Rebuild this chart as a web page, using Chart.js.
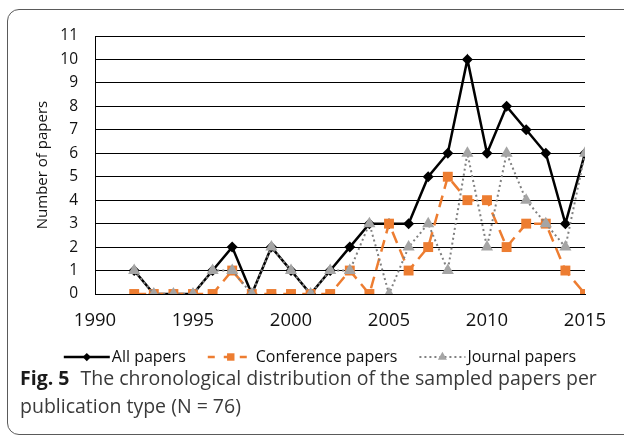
<!DOCTYPE html>
<html>
<head>
<meta charset="utf-8">
<script src="https://cdn.jsdelivr.net/npm/chart.js@4/dist/chart.umd.min.js"></script>
<style>
  html, body { margin: 0; padding: 0; background: #fff; overflow: hidden; }
  #wrap { position: relative; width: 624px; height: 436px; overflow: hidden; }
  #frame {
    position: absolute; left: 7px; top: 9px; width: 700px; height: 426px;
    border: 1.5px solid #5a5a5a; border-radius: 12px; box-sizing: border-box;
  }
  #myChart { position: absolute; left: 0; top: 0; }
  #caption {
    position: absolute; left: 20px; top: 364px; width: 600px;
    font-family: "Open Sans", sans-serif; font-size: 19.5px; line-height: 28px;
    color: #3a3a3a;
  }
  #caption b { color: #1a1a1a; font-weight: 700; margin-right: 6px; }
</style>
</head>
<body>
<div id="wrap">
  <div id="frame"></div>
  <canvas id="myChart" width="624" height="436"></canvas>
  <div id="caption"><b>Fig. 5</b> The chronological distribution of the sampled papers per publication type (N = 76)</div>
</div>
<script>
var years = [1992, 1993, 1994, 1995, 1996, 1997, 1998, 1999, 2000, 2001, 2002, 2003,
             2004, 2005, 2006, 2007, 2008, 2009, 2010, 2011, 2012, 2013, 2014, 2015];
var allPapers        = [1, 0, 0, 0, 1, 2, 0, 2, 1, 0, 1, 2, 3, 3, 3, 5, 6, 10, 6, 8, 7, 6, 3, 6];
var conferencePapers = [0, 0, 0, 0, 0, 1, 0, 0, 0, 0, 0, 1, 0, 3, 1, 2, 5, 4, 4, 2, 3, 3, 1, 0];
var journalPapers    = [1, 0, 0, 0, 1, 1, 0, 2, 1, 0, 1, 1, 3, 0, 2, 3, 1, 6, 2, 6, 4, 3, 2, 6];
var seriesNames = ['All papers', 'Conference papers', 'Journal papers'];

function toPoints(values) {
    return values.map(function (v, i) { return { x: years[i], y: v }; });
}

// legend with a line sample and a marker in its middle
const lineLegend = {
    id: 'lineLegend',
    afterDraw(chart, args, opts) {
        const ctx = chart.ctx;
        const sets = chart.data.datasets;
        ctx.save();
        ctx.font = opts.font;
        ctx.textBaseline = 'middle';
        const widths = sets.map(d => opts.sample + opts.gap + ctx.measureText(d.label).width);
        const total = widths.reduce((a, b) => a + b, 0) + opts.spacing * (sets.length - 1);
        let x = opts.center - total / 2;
        const y = opts.y;
        sets.forEach((d, i) => {
            ctx.strokeStyle = d.borderColor;
            ctx.lineWidth = d.borderWidth;
            ctx.setLineDash(d.legendDash || d.borderDash || []);
            ctx.beginPath();
            ctx.moveTo(x, y);
            ctx.lineTo(x + opts.sample, y);
            ctx.stroke();
            ctx.setLineDash([]);
            ctx.fillStyle = d.pointBackgroundColor;
            ctx.strokeStyle = d.pointBorderColor;
            ctx.lineWidth = 0;
            Chart.helpers.drawPoint(ctx, {
                pointStyle: d.pointStyle, radius: d.pointRadius * 0.75, borderWidth: 0, rotation: 0
            }, x + opts.sample / 2, y);
            ctx.fillStyle = opts.color;
            ctx.fillText(d.label, x + opts.sample + opts.gap, y);
            x += widths[i] + opts.spacing;
        });
        ctx.restore();
    }
};

const data = {
    datasets: [
        {
            label: seriesNames[0],
            data: toPoints(allPapers),
            borderColor: '#000000',
            backgroundColor: '#000000',
            borderWidth: 2.5,
            pointStyle: 'rectRot',
            pointRadius: 5.5,
            pointBackgroundColor: '#000000',
            pointBorderColor: '#000000',
            pointBorderWidth: 0,
            order: 3
        },
        {
            label: seriesNames[1],
            data: toPoints(conferencePapers),
            borderColor: '#ED7D31',
            backgroundColor: '#ED7D31',
            borderWidth: 2.5,
            borderDash: [12, 7],
            legendDash: [7, 9],
            pointStyle: 'rect',
            pointRadius: 7,
            pointBackgroundColor: '#ED7D31',
            pointBorderColor: '#ED7D31',
            pointBorderWidth: 0,
            order: 2
        },
        {
            label: seriesNames[2],
            data: toPoints(journalPapers),
            borderColor: '#808080',
            backgroundColor: '#A5A5A5',
            borderWidth: 2,
            borderDash: [2, 3],
            pointStyle: 'triangle',
            pointRadius: 7,
            pointBackgroundColor: '#A5A5A5',
            pointBorderColor: '#A5A5A5',
            pointBorderWidth: 0,
            order: 1
        }
    ]
};

const config = {
    type: 'line',
    data: data,
    plugins: [lineLegend],
    options: {
        responsive: false,
        animation: false,
        layout: { padding: { left: 0, top: 36, right: 39, bottom: 100 } },
        scales: {
            x: {
                type: 'linear',
                min: 1990,
                max: 2015,
                afterFit: function (s) { s.height = 42; },
                grid: { display: false, drawTicks: false },
                border: { display: true, color: '#000', width: 1 },
                ticks: {
                    stepSize: 5,
                    padding: 16,
                    color: '#111',
                    font: { family: 'Open Sans', size: 18.5 },
                    maxRotation: 0,
                    callback: function (v) { return String(v); }
                }
            },
            y: {
                min: 0,
                max: 11,
                afterFit: function (s) { s.width = 95; },
                grid: { color: '#000', lineWidth: 1, drawTicks: false },
                border: { display: true, color: '#000', width: 1 },
                ticks: {
                    stepSize: 1,
                    padding: 17,
                    color: '#111',
                    font: { family: 'Open Sans', size: 15.5 }
                },
                title: {
                    display: true,
                    text: 'Number of papers',
                    color: '#111',
                    font: { family: 'Open Sans', size: 15 },
                    padding: { top: 34, bottom: 0 }
                }
            }
        },
        plugins: {
            legend: { display: false },
            tooltip: { enabled: false },
            lineLegend: {
                y: 357,
                center: 320,
                sample: 46,
                gap: 2,
                spacing: 22,
                color: '#111',
                font: '16px "Open Sans"'
            }
        }
    }
};

const myChart = new Chart(document.getElementById('myChart'), config);
</script>
</body>
</html>
